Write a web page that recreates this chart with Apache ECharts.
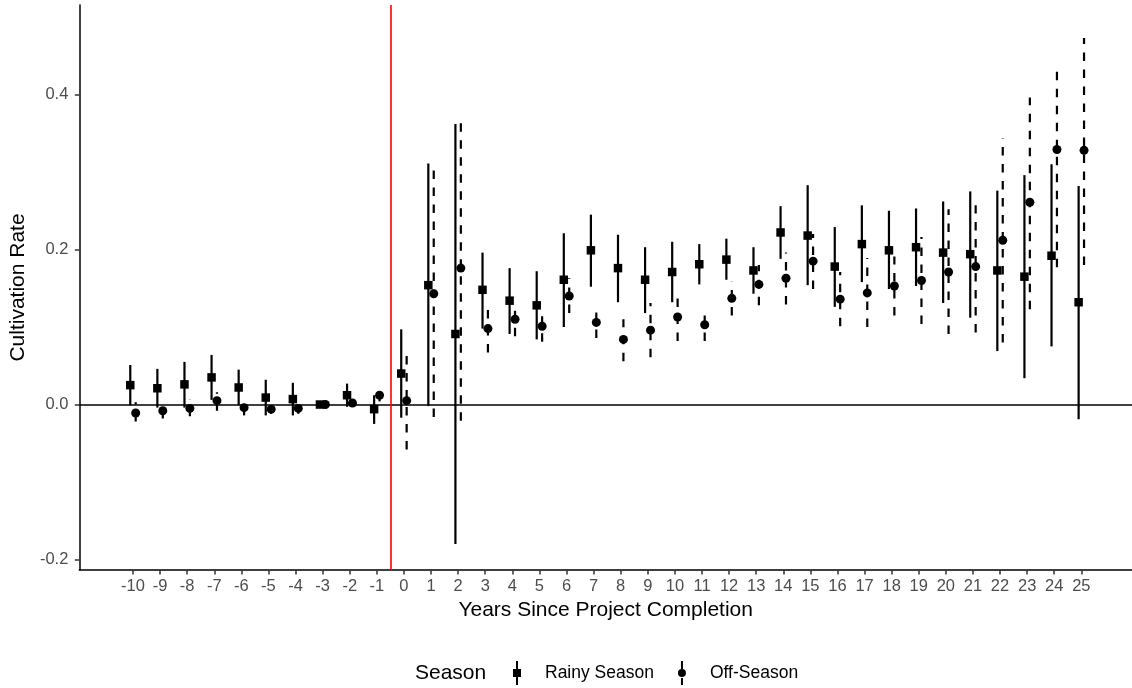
<!DOCTYPE html>
<html>
<head>
<meta charset="utf-8">
<script src="https://cdn.jsdelivr.net/npm/echarts@6/dist/echarts.min.js"></script>
<style>html,body{margin:0;padding:0;background:#fff;}#c{width:1132px;height:688px;}</style>
</head>
<body>
<div id="c"></div>
<script>
const years = [-10,-9,-8,-7,-6,-5,-4,-3,-2,-1,0,1,2,3,4,5,6,7,8,9,10,11,12,13,14,15,16,17,18,19,20,21,22,23,24,25];
const rainyEst = [0.025,0.021,0.026,0.035,0.022,0.009,0.007,0,0.012,-0.006,0.040,0.154,0.091,0.148,0.134,0.128,0.161,0.199,0.176,0.161,0.171,0.181,0.187,0.173,0.222,0.218,0.178,0.207,0.199,0.203,0.196,0.194,0.173,0.165,0.192,0.132];
const rainyLo = [-0.001,-0.004,-0.004,0.006,-0.001,-0.014,-0.014,null,-0.003,-0.025,-0.017,-0.002,-0.180,0.098,0.091,0.084,0.100,0.152,0.132,0.118,0.132,0.155,0.161,0.143,0.188,0.154,0.126,0.158,0.149,0.153,0.131,0.112,0.069,0.034,0.075,-0.019];
const rainyHi = [0.051,0.046,0.055,0.064,0.045,0.032,0.028,null,0.027,0.012,0.097,0.311,0.362,0.196,0.176,0.172,0.221,0.245,0.219,0.203,0.210,0.207,0.214,0.203,0.256,0.283,0.229,0.257,0.250,0.253,0.262,0.275,0.276,0.296,0.310,0.282];
const offEst = [-0.011,-0.008,-0.005,0.005,-0.004,-0.006,-0.005,0,0.002,0.012,0.005,0.143,0.176,0.098,0.110,0.101,0.140,0.106,0.084,0.096,0.113,0.103,0.137,0.155,0.163,0.185,0.136,0.144,0.153,0.160,0.171,0.178,0.212,0.261,0.329,0.328];
const offLo = [-0.022,-0.018,-0.015,-0.008,-0.014,-0.012,-0.012,null,-0.001,0.004,-0.058,-0.016,-0.021,0.067,0.088,0.081,0.118,0.086,0.056,0.061,0.082,0.082,0.115,0.128,0.129,0.149,0.101,0.100,0.115,0.104,0.091,0.093,0.080,0.123,0.177,0.180];
const offHi = [0.003,0.003,0.007,0.016,0.007,0.003,0.004,null,0.005,0.024,0.063,0.302,0.374,0.122,0.122,0.114,0.163,0.119,0.110,0.131,0.137,0.115,0.159,0.180,0.196,0.220,0.171,0.189,0.191,0.216,0.252,0.257,0.344,0.396,0.439,0.473];
const yTicks = [-0.2, 0, 0.2, 0.4];
const seriesNames = ['Rainy Season', 'Off-Season'];
const xTitle = 'Years Since Project Completion';
const yTitle = 'Cultivation Rate';
const legendTitle = 'Season';

const DODGE = 0.1;
const FONT = 'Liberation Sans, Arial, Helvetica, sans-serif';

function barData(lo, hi) {
  return years.map((y, i) => [y, lo[i], hi[i]]);
}
function pointData(est, off) {
  return years.map((y, i) => [y + off, est[i]]);
}
function errRender(offset, dashed) {
  return function (params, api) {
    const lo = api.value(1), hi = api.value(2);
    if (lo == null || hi == null || isNaN(lo) || isNaN(hi)) return null;
    const x = api.value(0) + offset;
    const p1 = api.coord([x, lo]);
    const p2 = api.coord([x, hi]);
    return {
      type: 'line',
      shape: { x1: p1[0], y1: p1[1], x2: p2[0], y2: p2[1] },
      style: { stroke: '#000', lineWidth: 2.2, lineDash: dashed ? [8.5, 8.5] : null, fill: null }
    };
  };
}

const chart = echarts.init(document.getElementById('c'), null, { renderer: 'canvas' });
const option = {
  animation: false,
  backgroundColor: '#fff',
  textStyle: { fontFamily: FONT },
  grid: { left: 78, right: 0, top: 5, bottom: 118, containLabel: false },
  xAxis: {
    type: 'value',
    min: -11.98, max: 26.87,
    axisLine: { show: true, onZero: false, lineStyle: { color: '#000', width: 1.5 } },
    axisTick: { show: true, customValues: years, length: 4.5, lineStyle: { color: '#333', width: 1.5 } },
    axisLabel: { customValues: years, color: '#4d4d4d', fontSize: 16.5, margin: 8, fontFamily: FONT },
    splitLine: { show: false },
    name: xTitle, nameLocation: 'middle', nameGap: 25,
    nameTextStyle: { color: '#000', fontSize: 21, fontFamily: FONT }
  },
  yAxis: {
    type: 'value',
    min: -0.2135, max: 0.5155,
    axisLine: { show: true, onZero: false, lineStyle: { color: '#000', width: 1.5 } },
    axisTick: { show: true, customValues: yTicks, length: 4.5, lineStyle: { color: '#333', width: 1.5 } },
    axisLabel: { customValues: yTicks, color: '#4d4d4d', fontSize: 16.5, margin: 11, fontFamily: FONT,
      formatter: v => v.toFixed(1) },
    splitLine: { show: false },
    name: yTitle, nameLocation: 'middle', nameGap: 45,
    nameTextStyle: { color: '#000', fontSize: 21, fontFamily: FONT }
  },
  legend: {
    show: true,
    left: 513, top: 661, padding: 0,
    orient: 'horizontal',
    itemWidth: 8, itemHeight: 24, itemGap: 24,
    textStyle: { color: '#000', fontSize: 17.5, fontFamily: FONT, padding: [0, 0, 0, 19] },
    data: [
      { name: seriesNames[0], icon: 'path://M3,0h2v8h3v8h-3v8h-2v-8h-3v-8h3z' },
      { name: seriesNames[1], icon: 'path://M3,0h2v8h-2z M0,12a4,4 0 1,0 8,0a4,4 0 1,0 -8,0z M3,17h2v7h-2z' }
    ]
  },
  graphic: [
    { type: 'text', x: 415, y: 673, style: { text: legendTitle, fill: '#000', font: '21px ' + FONT, verticalAlign: 'middle', align: 'left' } }
  ],
  series: [
    {
      type: 'line', data: [], silent: true, z: 1,
      markLine: {
        silent: true, symbol: ['none', 'none'], label: { show: false },
        data: [
          { yAxis: 0, lineStyle: { color: '#000', width: 1.6, type: 'solid' } },
          { xAxis: -0.5, lineStyle: { color: '#ff0000', width: 1.6, type: 'solid' } }
        ]
      }
    },
    {
      name: seriesNames[0], type: 'custom', z: 2,
      renderItem: errRender(-DODGE, false),
      data: barData(rainyLo, rainyHi),
      encode: { x: 0, y: [1, 2] },
      itemStyle: { color: '#000' }
    },
    {
      name: seriesNames[1], type: 'custom', z: 2,
      renderItem: errRender(DODGE, true),
      data: barData(offLo, offHi),
      encode: { x: 0, y: [1, 2] },
      itemStyle: { color: '#000' }
    },
    {
      name: seriesNames[0], type: 'scatter', z: 3,
      symbol: 'rect', symbolSize: 8.5,
      itemStyle: { color: '#000', opacity: 1 },
      data: pointData(rainyEst, -DODGE)
    },
    {
      name: seriesNames[1], type: 'scatter', z: 3,
      symbol: 'circle', symbolSize: 9,
      itemStyle: { color: '#000', opacity: 1 },
      data: pointData(offEst, DODGE)
    }
  ]
};
chart.setOption(option);
</script>
</body>
</html>
